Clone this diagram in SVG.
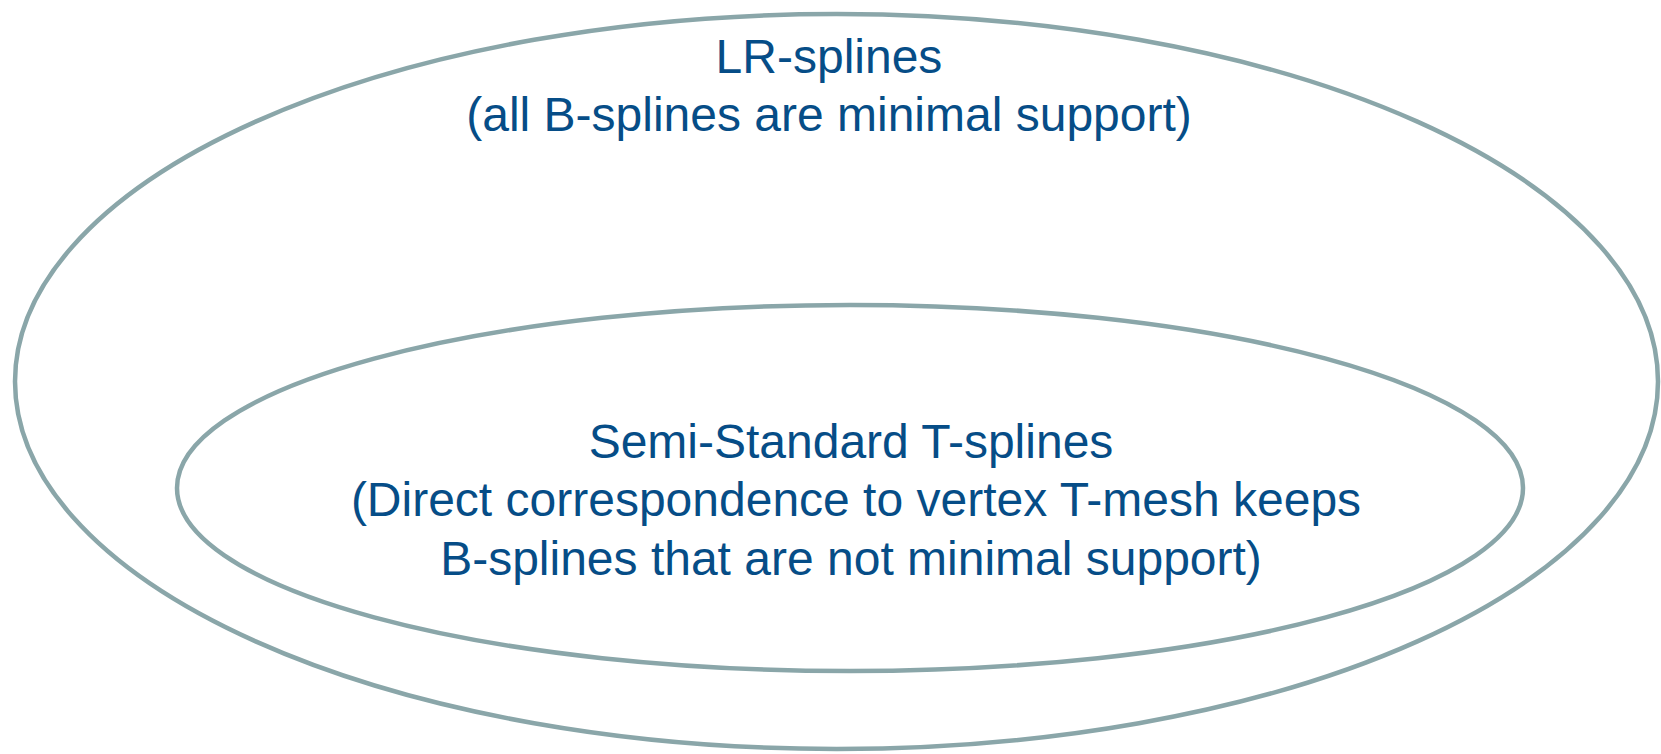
<svg xmlns="http://www.w3.org/2000/svg" width="1661" height="754" viewBox="0 0 1661 754">
<style>
.ring{fill:none;stroke:#8AA6A9;stroke-width:4.5}
.lbl{font-family:"Liberation Sans",Arial,sans-serif;font-size:48px;fill:#064D87;text-anchor:middle}
</style>
<rect width="1661" height="754" fill="#ffffff"/>
<g id="lr-splines">
<ellipse class="ring" cx="836.5" cy="381.5" rx="821.5" ry="367.5"/>
<text class="lbl" x="829" y="73">LR-splines</text>
<text class="lbl" x="829" y="131">(all B-splines are minimal support)</text>
</g>
<g id="semi-standard">
<ellipse class="ring" cx="850" cy="488" rx="673" ry="183"/>
<text class="lbl" x="851" y="458">Semi-Standard T-splines</text>
<text class="lbl" x="856" y="516">(Direct correspondence to vertex T-mesh keeps</text>
<text class="lbl" x="851" y="575">B-splines that are not minimal support)</text>
</g>
<g id="connectors"></g>
</svg>
